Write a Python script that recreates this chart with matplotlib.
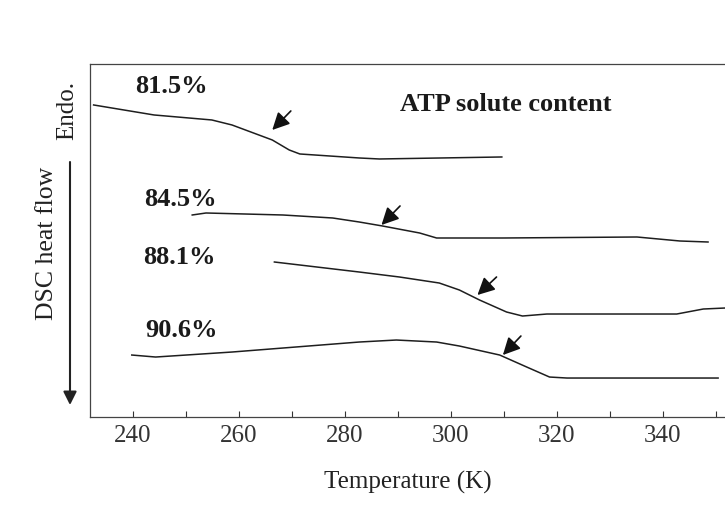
import matplotlib
matplotlib.use("Agg")
import matplotlib.pyplot as plt
from matplotlib.ticker import MultipleLocator

plt.rcParams['font.family'] = ['Liberation Serif', 'DejaVu Serif']

# DSC traces, heat flow in arbitrary units
t_815 = [232.6, 244.0, 254.9, 258.7, 266.3, 269.5, 271.5, 282.7, 286.5, 309.6]
hf_815 = [3.12, 3.02, 2.97, 2.92, 2.77, 2.67, 2.63, 2.59, 2.58, 2.60]

t_845 = [251.2, 253.8, 268.3, 277.7, 282.7, 287.1, 294.1, 297.3, 309.8, 335.1, 343.2, 348.5]
hf_845 = [2.02, 2.04, 2.02, 1.99, 1.95, 1.91, 1.84, 1.79, 1.79, 1.80, 1.76, 1.75]

t_881 = [266.7, 282.7, 290.3, 297.8, 301.6, 305.4, 310.5, 313.5, 318.1, 342.6, 347.6, 351.7]
hf_881 = [1.55, 1.45, 1.40, 1.34, 1.27, 1.17, 1.05, 1.01, 1.03, 1.03, 1.08, 1.09]

t_906 = [239.8, 244.3, 258.7, 282.7, 289.7, 297.3, 301.6, 309.2, 314.3, 318.6, 321.9, 339.4, 350.4]
hf_906 = [0.62, 0.60, 0.65, 0.75, 0.77, 0.75, 0.71, 0.62, 0.50, 0.40, 0.39, 0.39, 0.39]

labels = ["81.5%", "84.5%", "88.1%", "90.6%"]
label_t = [247.2, 248.9, 248.7, 249.1]
label_hf = [3.30, 2.17, 1.60, 0.87]

# glass transition arrows: (tip T, tip hf, tail T, tail hf)
tg_arrows = [
    (266.3, 2.87, 269.8, 3.06),
    (286.9, 1.92, 290.4, 2.11),
    (305.0, 1.22, 308.6, 1.40),
    (309.8, 0.62, 313.2, 0.81),
]

fig = plt.figure(figsize=(7.25, 5.2), dpi=100)
ax = fig.add_axes([0.124, 0.198, 0.876, 0.679])

for t, hf in [(t_815, hf_815), (t_845, hf_845), (t_881, hf_881), (t_906, hf_906)]:
    ax.plot(t, hf, color='#1e1e1e', lw=1.1)

for lab, x, y in zip(labels, label_t, label_hf):
    ax.text(x, y, lab, ha='center', va='center', fontsize=19, fontweight='bold', color='#1a1a1a')

for x1, y1, x0, y0 in tg_arrows:
    ax.annotate("", xy=(x1, y1), xytext=(x0, y0),
                arrowprops=dict(arrowstyle='-|>', color='#111', lw=1.2,
                                mutation_scale=26, shrinkA=0, shrinkB=0))

ax.text(310.3, 3.12, "ATP solute content", ha='center', va='center',
        fontsize=19, fontweight='bold', color='#1a1a1a')

ax.set_xlim(231.9, 351.7)
ax.set_ylim(0, 3.53)
ax.xaxis.set_major_locator(MultipleLocator(20))
ax.xaxis.set_minor_locator(MultipleLocator(10))
ax.tick_params(axis='x', which='both', direction='in', length=4, width=0.8,
               labelsize=18, colors='#333', pad=6)
ax.set_yticks([])
ax.spines['right'].set_visible(False)
for s in ['left', 'top', 'bottom']:
    ax.spines[s].set_color('#444')
    ax.spines[s].set_linewidth(0.9)

ax.set_xlabel("Temperature (K)", fontsize=18, color='#222', labelpad=17)

# y-axis label with downward arrow
fig.text(67 / 725, 1 - 110 / 520, "Endo.", rotation=90, ha='center', va='center',
         fontsize=18, color='#222')
fig.text(47 / 725, 1 - 243 / 520, "DSC heat flow", rotation=90, ha='center', va='center',
         fontsize=18.5, color='#222')
ax.annotate("", xy=(70 / 725, 1 - 405 / 520), xytext=(70 / 725, 1 - 162 / 520),
            xycoords='figure fraction', textcoords='figure fraction',
            arrowprops=dict(arrowstyle='-|>', color='#222', lw=1.5, mutation_scale=20,
                            shrinkA=0, shrinkB=0))

fig.savefig("out.png", dpi=100)
